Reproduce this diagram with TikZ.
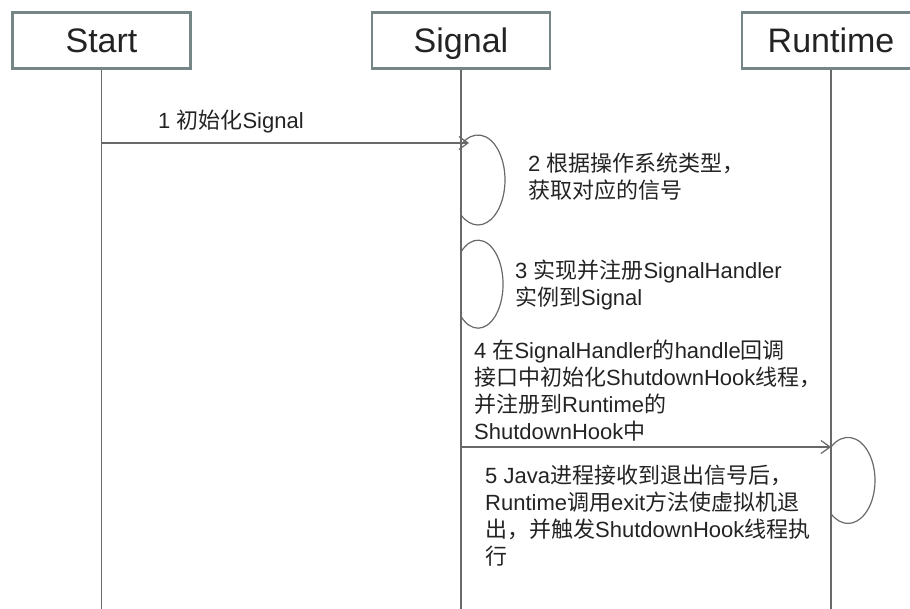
\documentclass[tikz,border=0pt]{standalone}
\usepackage{fontspec}
\setmainfont{Liberation Sans}
\newfontfamily\zhfont{Noto Sans CJK SC}
\newcommand{\zh}[1]{{\zhfont #1}}
\usetikzlibrary{arrows.meta}
\definecolor{boxgray}{RGB}{118,134,134}
\definecolor{linegray}{RGB}{105,105,105}
\definecolor{textgray}{RGB}{35,35,35}

\begin{document}
\begin{tikzpicture}[x=1pt,y=-1pt,
  headnode/.style={draw=boxgray, line width=2.5pt, fill=white, minimum width=178pt, minimum height=56pt, inner sep=0pt, text height=25pt, text depth=0pt, font=\fontsize{34}{36}\selectfont, text=textgray},
  labelnode/.style={anchor=north west, inner sep=0pt, align=left, font=\fontsize{22}{27}\selectfont, text=textgray},
  lifeline/.style={draw=linegray, line width=1.8pt},
  msg/.style={draw=linegray, line width=1.2pt, -{Straight Barb[length=9pt,width=13pt]}},
  selfloop/.style={draw=linegray, line width=1.2pt}]
            \useasboundingbox (0,0) rectangle (910,609);

            \node[headnode] (start) at (101.5,40.5) {Start};
            \node[headnode] (signal) at (461,40.5) {Signal};
            \node[headnode] (runtime) at (831,40.5) {Runtime};

            \coordinate (startend) at (101.5,609);
            \coordinate (signalend) at (461,609);
            \coordinate (runtimeend) at (831,609);

            \draw[lifeline] (start) -- (startend);
            \draw[lifeline] (signal) -- (signalend);
            \draw[lifeline] (runtime) -- (runtimeend);

            \coordinate (m1a) at (101.5,143);
            \coordinate (m1b) at (469,143);
            \coordinate (m4a) at (461,447);
            \coordinate (m4b) at (831,447);
            \coordinate (loop2) at (461,145);
            \coordinate (loop3) at (461,252);
            \coordinate (loop5) at (831,447);

            \draw[msg] (m1a) -- (m1b);
            \draw[msg] (m4a) -- (m4b);
            \draw[selfloop] (loop2) arc[start angle=-129, end angle=129, x radius=27, y radius=45];
            \draw[selfloop] (loop3) arc[start angle=-133, end angle=133, x radius=25, y radius=44];
            \draw[selfloop] (loop5) arc[start angle=-129, end angle=129, x radius=27, y radius=43];

            \node[labelnode] (t1) at (158,110) {1 \zh{初始化}Signal};
            \node[labelnode] (t2) at (528,153) {2 \zh{根据操作系统类型，}\\\zh{获取对应的信号}};
            \node[labelnode] (t3) at (515,260) {3 \zh{实现并注册}SignalHandler\\\zh{实例到}Signal};
            \node[labelnode] (t4) at (474,340) {4 \zh{在}SignalHandler\zh{的}handle\zh{回调}\\\zh{接口中初始化}ShutdownHook\zh{线程，}\\\zh{并注册到}Runtime\zh{的}\\ShutdownHook\zh{中}};
            \node[labelnode] (t5) at (485,465) {5 Java\zh{进程接收到退出信号后，}\\Runtime\zh{调用}exit\zh{方法使虚拟机退}\\\zh{出，并触发}ShutdownHook\zh{线程执}\\\zh{行}};

        \end{tikzpicture}
\end{document}
